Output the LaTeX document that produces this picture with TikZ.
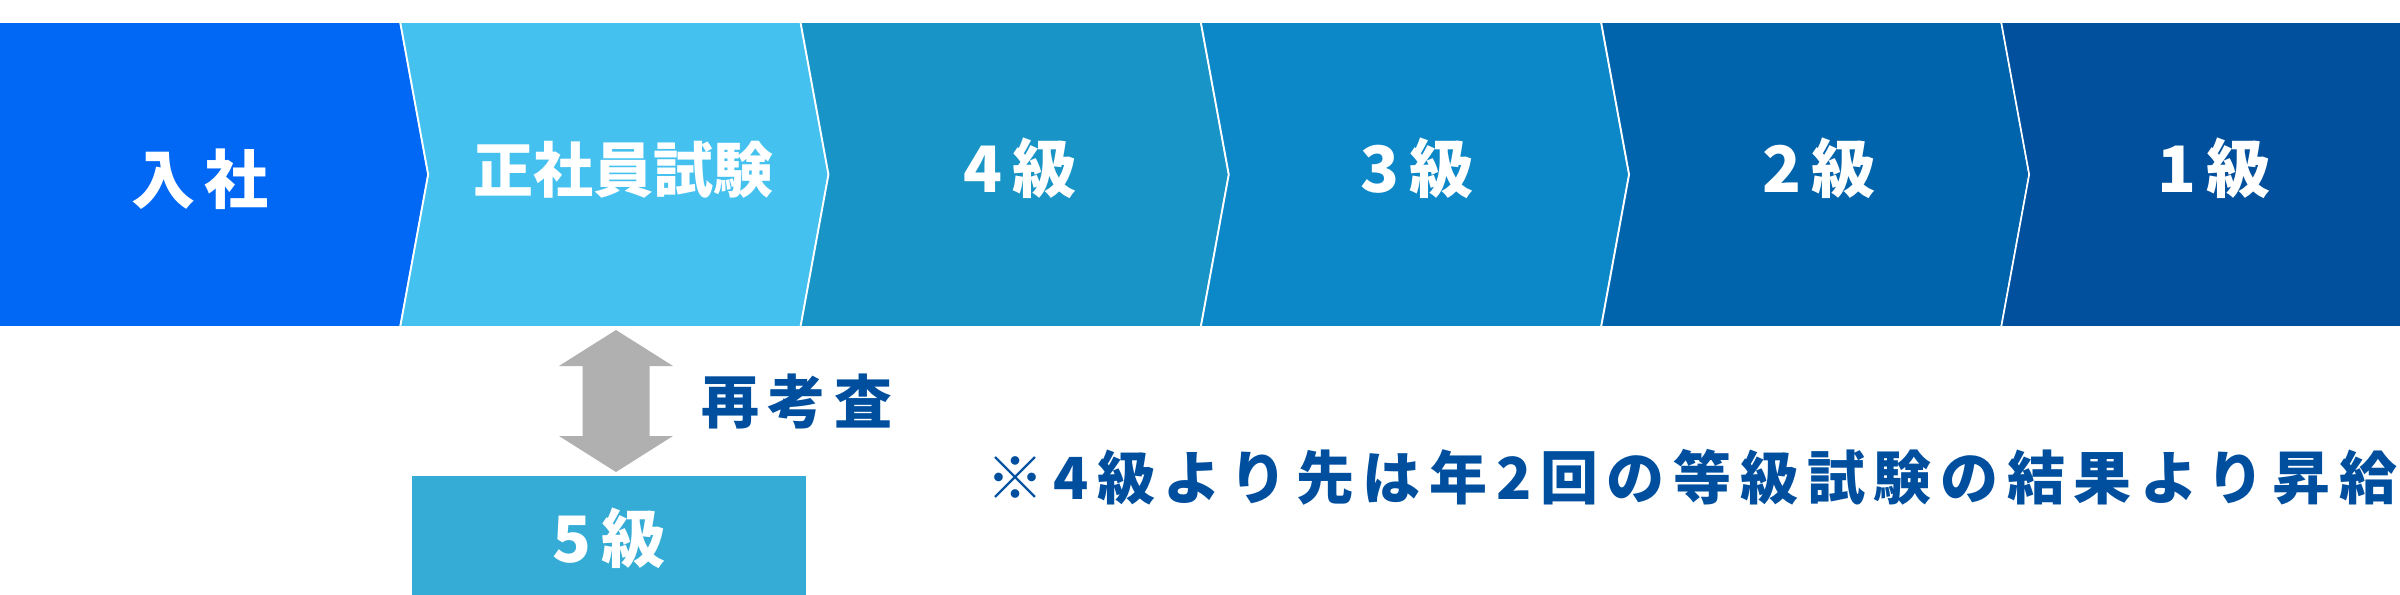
\documentclass[tikz,border=0pt]{standalone}
\usepackage{fontspec}
\newfontfamily\jpfont{Noto Sans CJK JP}[LetterSpace=15]
\newfontfamily\jptight{Noto Sans CJK JP}
\usetikzlibrary{positioning, calc}

\definecolor{joinblue}{HTML}{0068F5}
\definecolor{examblue}{HTML}{45C1F0}
\definecolor{gradefour}{HTML}{1895C6}
\definecolor{gradethree}{HTML}{0C88C9}
\definecolor{gradetwo}{HTML}{0064AD}
\definecolor{gradeone}{HTML}{00509D}
\definecolor{gradefive}{HTML}{34ACD6}
\definecolor{arrowgray}{HTML}{B0B0B0}
\definecolor{noteblue}{HTML}{004F9F}

\begin{document}
\begin{tikzpicture}[
    x=1pt, y=-1pt,
    % Define styles
    chevron/.style={fill=#1, draw=white, line width=1.6pt, line join=miter}, % One step of the band
    stagetext/.style={text=white, inner sep=0pt, font=\jpfont\bfseries\fontsize{64pt}{64pt}\selectfont}, % Step label
    gradebox/.style={rectangle, fill=gradefive, minimum width=394pt, minimum height=125pt, inner sep=0pt, text=white, font=\jpfont\bfseries\fontsize{64pt}{64pt}\selectfont}, % Grade 5 box
    notetext/.style={text=noteblue, inner sep=0pt, font=\jpfont\bfseries\fontsize{58pt}{58pt}\selectfont} % Blue text
]
\useasboundingbox (0,0) rectangle (2400,594);

% ----- STEP BAND -----
\path[chevron=joinblue] (-5,22) -- (400,22) -- (428,174.5) -- (400,327) -- (-5,327) -- cycle;
\foreach \i/\col in {1/examblue, 2/gradefour, 3/gradethree, 4/gradetwo} {
    \pgfmathsetmacro\xl{400.3*\i}
    \path[chevron=\col] (\xl,22) -- ++(400,0) -- ++(28,152.5) -- ++(-28,152.5) -- ++(-400,0) -- ++(28,-152.5) -- cycle;
}
\path[chevron=gradeone] (2001.2,22) -- (2405,22) -- (2405,327) -- (2001.2,327) -- (2029.2,174.5) -- cycle;

% Step labels
\node (join)  [stagetext] at (200,179) {入社};
\node (exam)  [stagetext, font=\jptight\bfseries\fontsize{60pt}{60pt}\selectfont] at (623,170) {正社員試験};
\node (grade4)[stagetext] at (1020,168) {4級};
\node (grade3)[stagetext] at (1417,168) {3級};
\node (grade2)[stagetext] at (1819,168) {2級};
\node (grade1)[stagetext] at (2214,168) {1級};

% ----- RE-EXAMINATION -----
\node (grade5) [gradebox, anchor=north] at (609,476) {5級};
\coordinate (arrowtop) at (exam |- 0,330);
\coordinate (arrowbot) at (exam |- 0,472);
\fill[arrowgray] ($(arrowtop)+(-7,0)$) -- ++(57,36) -- ++(-23.5,0) -- ++(0,70) -- ++(23.5,0) -- ($(arrowbot)+(-7,0)$)
    -- ++(-57,-36) -- ++(23.5,0) -- ++(0,-70) -- ++(-23.5,0) -- cycle;
\node (recheck) [notetext] at (797,402) {再考査};

% Note on promotion
\node (note) [notetext] at (1692,477) {※4級より先は年2回の等級試験の結果より昇給};

\end{tikzpicture}
\end{document}
